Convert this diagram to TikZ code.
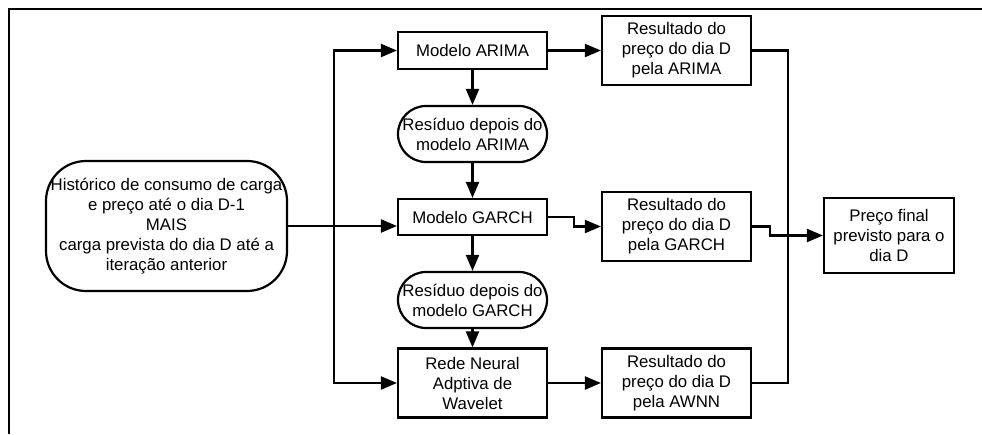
\documentclass[tikz,border=0pt]{standalone}
\usepackage{fontspec}
\setmainfont{Liberation Sans}
\usetikzlibrary{
    arrows.meta,
    positioning
}

\begin{document}
\begin{tikzpicture} [x=1pt, y=-1pt, line width=2.2pt,
    font=\fontsize{16.8}{20}\selectfont,
    source/.style={rectangle,draw,rounded corners=40pt,align=center,
                  inner sep=0pt,minimum width=241pt,minimum height=130pt},
    model/.style={rectangle,draw,align=center,
                  inner sep=0pt,minimum width=149pt},
    residue/.style={rectangle,draw,rounded corners=28pt,align=center,
                  inner sep=0pt,minimum width=149pt,minimum height=56pt},
    result/.style={rectangle,draw,align=center,
                  inner sep=0pt,minimum width=149pt,minimum height=69pt},
    flow/.style={-{Triangle[length=16pt,width=13pt]}}
]
    \useasboundingbox (0,0) rectangle (982,434);
    \draw (982,9) -- (9,9) -- (9,434);

    \node[source] (historico) at (166.5,226) {Histórico de consumo de carga\\
        e preço até o dia D-1\\ MAIS\\ carga prevista do dia D até a\\ iteração anterior};

    \node[model,minimum height=37pt] (arima)    at (472.5,50.5) {Modelo ARIMA};
    \node[residue]                   (resarima) at (472.5,134)  {Resíduo depois do\\ modelo ARIMA};
    \node[model,minimum height=36pt] (garch)    at (472.5,217)  {Modelo GARCH};
    \node[residue]                   (resgarch) at (472.5,300)  {Resíduo depois do\\ modelo GARCH};
    \node[model,minimum height=69pt] (awnn)     at (472.5,383) {Rede Neural\\ Adptiva de\\ Wavelet};

    \node[result] (resultarima) at (676.5,50.5)  {Resultado do\\ preço do dia D\\ pela ARIMA};
    \node[result] (resultgarch) at (676.5,226.5) {Resultado do\\ preço do dia D\\ pela GARCH};
    \node[result] (resultawnn)  at (676.5,383)   {Resultado do\\ preço do dia D\\ pela AWNN};

    \node[model,minimum width=130pt,minimum height=75pt] (final) at (889,235.5)
        {Preço final\\ previsto para o\\ dia D};

    % entrada para os tres modelos
    \coordinate (split) at (334,226);
    \draw[flow] (historico.east) -- (historico.east -| garch.west);
    \draw[flow] (split) |- (arima.west);
    \draw[flow] (split) |- (awnn.west);

    % cadeia de residuos
    \draw[flow] (arima.south) -- (resarima.north);
    \draw[flow] (resarima.south) -- (garch.north);
    \draw[flow] (garch.south) -- (resgarch.north);
    \draw[flow] (resgarch.south) -- (awnn.north);

    % resultados
    \draw[flow] (arima.east) -- (resultarima.west);
    \draw[flow] (garch.east) -- ++(26,0) |- (resultgarch.west);
    \draw[flow] (awnn.east) -- (resultawnn.west);

    % combinacao final
    \draw (resultarima.east) -- ++(36,0) |- (resultawnn.east);
    \draw[flow] (resultgarch.east) -- ++(18,0) |- (final.west);
\end{tikzpicture}
\end{document}
